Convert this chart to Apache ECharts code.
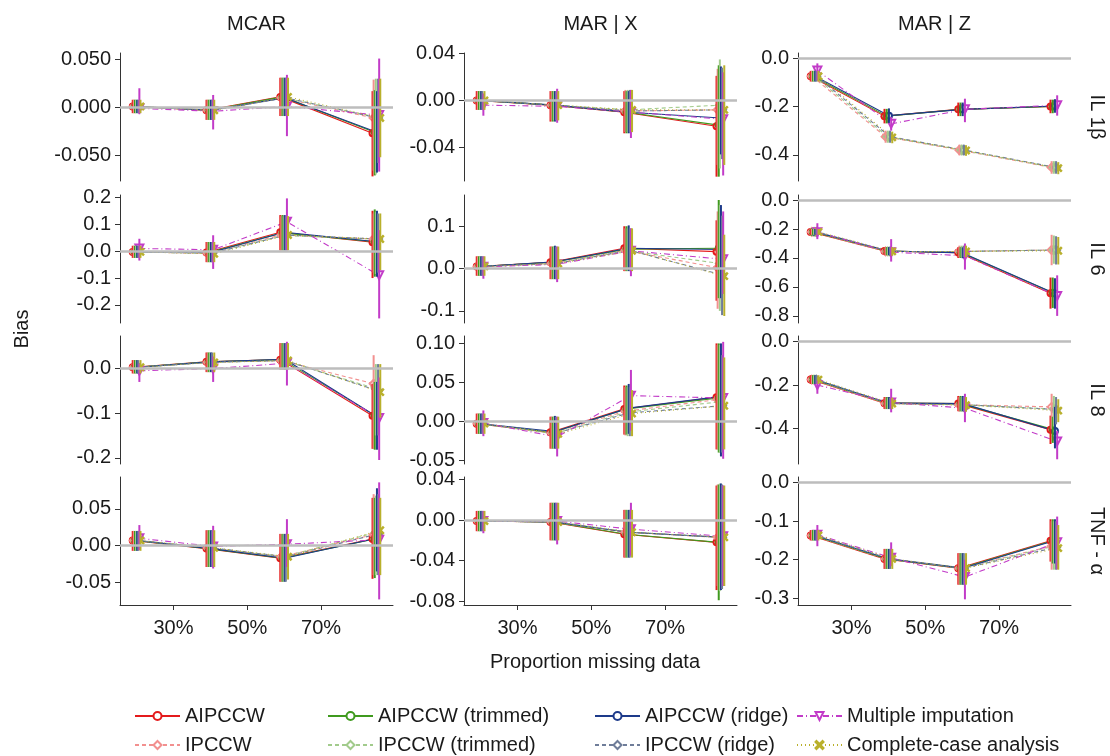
<!DOCTYPE html>
<html>
<head>
<meta charset="utf-8">
<script src="https://cdn.jsdelivr.net/npm/echarts@6/dist/echarts.min.js"></script>
<style>
  html, body { margin: 0; padding: 0; background: #fff; }
  #main { width: 1110px; height: 756px; }
</style>
</head>
<body>
<div id="main"></div>
<script>
// x positions (proportion missing, %) and labels
var xPos = [20, 40, 60, 85];
var xTicks = [30, 50, 70];
var colNames = ['MCAR', 'MAR | X', 'MAR | Z'];
var rowNames = ['IL 1β', 'IL 6', 'IL 8', 'TNF - α'];
// factor order (also dodge order, left to right)
var methods = ['AIPCCW', 'IPCCW', 'AIPCCW (trimmed)', 'IPCCW (trimmed)',
               'AIPCCW (ridge)', 'IPCCW (ridge)', 'Multiple imputation', 'Complete-case analysis'];

// ---- IL 1b ----
var est_mcar_il1b = [[0.001,-0.003,0.011,-0.027],[0.001,-0.003,0.010,-0.011],[0.001,-0.003,0.011,-0.026],[0.001,-0.003,0.010,-0.010],
                     [0.001,-0.003,0.010,-0.026],[0.001,-0.003,0.010,-0.011],[-0.001,-0.004,0.001,-0.008],[0.001,-0.003,0.011,-0.011]];
var lo_mcar_il1b  = [[-0.006,-0.013,-0.009,-0.072],[-0.006,-0.013,-0.009,-0.066],[-0.006,-0.013,-0.009,-0.071],[-0.006,-0.013,-0.009,-0.070],
                     [-0.006,-0.013,-0.009,-0.068],[-0.006,-0.013,-0.009,-0.058],[-0.007,-0.023,-0.030,-0.067],[-0.006,-0.013,-0.009,-0.052]];
var hi_mcar_il1b  = [[0.008,0.008,0.031,0.017],[0.008,0.008,0.031,0.029],[0.008,0.008,0.031,0.018],[0.008,0.008,0.031,0.030],
                     [0.008,0.008,0.031,0.017],[0.008,0.008,0.031,0.030],[0.020,0.013,0.034,0.051],[0.008,0.008,0.031,0.030]];

var est_marx_il1b = [[0.000,-0.004,-0.010,-0.022],[0.000,-0.004,-0.009,-0.008],[0.000,-0.004,-0.010,-0.021],[0.000,-0.004,-0.008,-0.004],
                     [0.000,-0.004,-0.010,-0.015],[0.000,-0.004,-0.009,-0.008],[-0.004,-0.005,-0.010,-0.016],[0.000,-0.004,-0.008,-0.008]];
var lo_marx_il1b  = [[-0.008,-0.018,-0.028,-0.065],[-0.008,-0.017,-0.027,-0.055],[-0.008,-0.018,-0.028,-0.065],[-0.008,-0.017,-0.027,-0.058],
                     [-0.008,-0.018,-0.028,-0.046],[-0.008,-0.017,-0.027,-0.050],[-0.013,-0.019,-0.032,-0.064],[-0.008,-0.017,-0.027,-0.055]];
var hi_marx_il1b  = [[0.008,0.008,0.008,0.021],[0.008,0.008,0.009,0.027],[0.008,0.008,0.008,0.030],[0.008,0.008,0.009,0.035],
                     [0.008,0.008,0.008,0.029],[0.008,0.008,0.009,0.028],[0.006,0.010,0.009,0.024],[0.008,0.008,0.009,0.030]];

var est_marz_il1b = [[-0.075,-0.240,-0.212,-0.200],[-0.075,-0.325,-0.380,-0.452],[-0.075,-0.240,-0.212,-0.200],[-0.075,-0.325,-0.380,-0.452],
                     [-0.075,-0.238,-0.212,-0.198],[-0.075,-0.325,-0.380,-0.452],[-0.052,-0.272,-0.212,-0.195],[-0.075,-0.328,-0.382,-0.455]];
var lo_marz_il1b  = [[-0.097,-0.270,-0.240,-0.228],[-0.097,-0.350,-0.402,-0.478],[-0.097,-0.270,-0.240,-0.228],[-0.097,-0.350,-0.402,-0.478],
                     [-0.097,-0.268,-0.240,-0.226],[-0.097,-0.350,-0.402,-0.478],[-0.092,-0.300,-0.265,-0.238],[-0.097,-0.352,-0.404,-0.480]];
var hi_marz_il1b  = [[-0.053,-0.210,-0.184,-0.172],[-0.053,-0.300,-0.358,-0.426],[-0.053,-0.210,-0.184,-0.172],[-0.053,-0.300,-0.358,-0.426],
                     [-0.053,-0.208,-0.184,-0.170],[-0.053,-0.300,-0.358,-0.426],[-0.022,-0.244,-0.168,-0.154],[-0.053,-0.304,-0.360,-0.430]];

// ---- IL 6 ----
var est_mcar_il6 = [[-0.003,-0.005,0.070,0.033],[-0.003,-0.008,0.060,0.045],[-0.003,-0.005,0.068,0.035],[-0.003,-0.008,0.058,0.045],
                    [-0.003,-0.005,0.070,0.035],[-0.003,-0.008,0.060,0.045],[0.010,0.005,0.109,-0.090],[-0.003,-0.010,0.060,0.045]];
var lo_mcar_il6  = [[-0.025,-0.041,0.003,-0.100],[-0.025,-0.041,0.003,-0.080],[-0.025,-0.041,0.003,-0.095],[-0.025,-0.041,0.003,-0.085],
                    [-0.025,-0.041,0.003,-0.095],[-0.025,-0.041,0.003,-0.080],[-0.035,-0.066,0.003,-0.250],[-0.025,-0.041,0.003,-0.070]];
var hi_mcar_il6  = [[0.020,0.034,0.134,0.150],[0.020,0.034,0.130,0.140],[0.020,0.034,0.134,0.155],[0.020,0.034,0.130,0.145],
                    [0.020,0.034,0.134,0.150],[0.020,0.034,0.130,0.140],[0.046,0.059,0.196,0.078],[0.020,0.034,0.130,0.140]];

var est_marx_il6 = [[0.005,0.015,0.048,0.040],[0.005,0.012,0.043,0.002],[0.005,0.015,0.046,0.048],[0.005,0.012,0.042,0.012],
                    [0.005,0.016,0.048,0.045],[0.005,0.012,0.043,-0.015],[0.004,0.010,0.042,0.022],[0.005,0.012,0.042,-0.018]];
var lo_marx_il6  = [[-0.017,-0.025,-0.006,-0.076],[-0.017,-0.025,-0.006,-0.095],[-0.017,-0.025,-0.006,-0.070],[-0.017,-0.025,-0.006,-0.100],
                    [-0.017,-0.025,-0.006,-0.070],[-0.017,-0.025,-0.006,-0.110],[-0.024,-0.032,-0.018,-0.060],[-0.017,-0.025,-0.006,-0.112]];
var hi_marx_il6  = [[0.029,0.052,0.100,0.114],[0.029,0.052,0.095,0.135],[0.029,0.052,0.100,0.162],[0.029,0.052,0.095,0.150],
                    [0.029,0.054,0.102,0.150],[0.029,0.052,0.095,0.125],[0.029,0.052,0.095,0.135],[0.029,0.052,0.095,0.080]];

var est_marz_il6 = [[-0.220,-0.352,-0.363,-0.644],[-0.220,-0.355,-0.355,-0.345],[-0.220,-0.352,-0.362,-0.640],[-0.220,-0.355,-0.355,-0.345],
                    [-0.220,-0.352,-0.365,-0.645],[-0.220,-0.355,-0.355,-0.345],[-0.222,-0.360,-0.385,-0.662],[-0.220,-0.355,-0.355,-0.350]];
var lo_marz_il6  = [[-0.240,-0.380,-0.400,-0.750],[-0.240,-0.385,-0.395,-0.450],[-0.240,-0.380,-0.400,-0.745],[-0.240,-0.385,-0.395,-0.440],
                    [-0.240,-0.380,-0.402,-0.750],[-0.240,-0.385,-0.395,-0.445],[-0.270,-0.425,-0.480,-0.800],[-0.240,-0.385,-0.395,-0.445]];
var hi_marz_il6  = [[-0.200,-0.325,-0.325,-0.535],[-0.200,-0.325,-0.315,-0.240],[-0.200,-0.325,-0.325,-0.535],[-0.200,-0.325,-0.315,-0.245],
                    [-0.200,-0.325,-0.327,-0.540],[-0.200,-0.325,-0.315,-0.250],[-0.160,-0.270,-0.300,-0.520],[-0.200,-0.325,-0.315,-0.255]];

// ---- IL 8 ----
var est_mcar_il8 = [[0.003,0.015,0.020,-0.106],[0.003,0.014,0.018,-0.034],[0.003,0.015,0.020,-0.105],[0.003,0.014,0.018,-0.045],
                    [0.003,0.015,0.021,-0.108],[0.003,0.014,0.018,-0.050],[-0.005,0.000,0.012,-0.111],[0.003,0.014,0.018,-0.053]];
var lo_mcar_il8  = [[-0.011,-0.008,-0.002,-0.180],[-0.011,-0.008,-0.002,-0.180],[-0.011,-0.008,-0.002,-0.182],[-0.011,-0.008,-0.002,-0.150],
                    [-0.011,-0.008,-0.002,-0.182],[-0.011,-0.008,-0.002,-0.150],[-0.030,-0.030,-0.038,-0.205],[-0.011,-0.008,-0.002,-0.110]];
var hi_mcar_il8  = [[0.019,0.036,0.057,-0.034],[0.019,0.036,0.057,0.030],[0.019,0.036,0.057,-0.030],[0.019,0.036,0.057,0.010],
                    [0.019,0.036,0.057,-0.030],[0.019,0.036,0.057,0.010],[0.011,0.027,0.060,-0.020],[0.019,0.036,0.057,0.010]];

var est_marx_il8 = [[-0.003,-0.014,0.016,0.031],[-0.003,-0.015,0.013,0.028],[-0.003,-0.014,0.016,0.030],[-0.003,-0.016,0.012,0.025],
                    [-0.003,-0.013,0.017,0.032],[-0.003,-0.015,0.011,0.020],[-0.002,-0.020,0.033,0.030],[-0.003,-0.016,0.010,0.020]];
var lo_marx_il8  = [[-0.016,-0.035,-0.017,-0.036],[-0.016,-0.035,-0.018,-0.036],[-0.016,-0.035,-0.017,-0.040],[-0.016,-0.035,-0.019,-0.040],
                    [-0.016,-0.035,-0.016,-0.045],[-0.016,-0.035,-0.019,-0.040],[-0.019,-0.045,-0.012,-0.048],[-0.016,-0.035,-0.019,-0.036]];
var hi_marx_il8  = [[0.010,0.006,0.046,0.100],[0.010,0.006,0.044,0.098],[0.010,0.006,0.046,0.100],[0.010,0.006,0.044,0.098],
                    [0.010,0.007,0.048,0.100],[0.010,0.006,0.044,0.085],[0.014,0.006,0.066,0.102],[0.010,0.006,0.040,0.082]];

var est_marz_il8 = [[-0.175,-0.283,-0.285,-0.405],[-0.175,-0.285,-0.290,-0.300],[-0.175,-0.283,-0.285,-0.403],[-0.175,-0.285,-0.290,-0.310],
                    [-0.175,-0.283,-0.285,-0.410],[-0.175,-0.285,-0.290,-0.312],[-0.200,-0.280,-0.306,-0.458],[-0.175,-0.285,-0.292,-0.317]];
var lo_marz_il8  = [[-0.195,-0.310,-0.320,-0.470],[-0.195,-0.310,-0.322,-0.400],[-0.195,-0.310,-0.320,-0.465],[-0.195,-0.310,-0.322,-0.390],
                    [-0.195,-0.310,-0.320,-0.490],[-0.195,-0.310,-0.322,-0.380],[-0.240,-0.325,-0.370,-0.540],[-0.195,-0.310,-0.322,-0.370]];
var hi_marz_il8  = [[-0.155,-0.255,-0.250,-0.340],[-0.155,-0.258,-0.255,-0.240],[-0.155,-0.255,-0.250,-0.345],[-0.155,-0.258,-0.255,-0.250],
                    [-0.155,-0.255,-0.250,-0.300],[-0.155,-0.258,-0.255,-0.255],[-0.180,-0.217,-0.240,-0.410],[-0.155,-0.258,-0.255,-0.265]];

// ---- TNF-a ----
var est_mcar_tnf = [[0.007,-0.004,-0.017,0.009],[0.007,-0.003,-0.015,0.015],[0.007,-0.004,-0.017,0.009],[0.007,-0.003,-0.015,0.018],
                    [0.007,-0.004,-0.017,0.010],[0.007,-0.003,-0.015,0.016],[0.010,-0.001,0.002,0.008],[0.007,-0.003,-0.015,0.021]];
var lo_mcar_tnf  = [[-0.007,-0.029,-0.049,-0.045],[-0.007,-0.029,-0.049,-0.040],[-0.007,-0.029,-0.049,-0.044],[-0.007,-0.029,-0.049,-0.040],
                    [-0.007,-0.029,-0.049,-0.035],[-0.007,-0.029,-0.049,-0.040],[-0.006,-0.031,-0.029,-0.073],[-0.007,-0.029,-0.046,-0.040]];
var hi_mcar_tnf  = [[0.020,0.021,0.016,0.065],[0.020,0.021,0.016,0.070],[0.020,0.021,0.016,0.065],[0.020,0.021,0.016,0.068],
                    [0.020,0.021,0.016,0.078],[0.020,0.021,0.016,0.070],[0.028,0.027,0.036,0.086],[0.020,0.021,0.016,0.065]];

var est_marx_tnf = [[-0.001,-0.002,-0.014,-0.022],[-0.001,-0.002,-0.012,-0.017],[-0.001,-0.002,-0.014,-0.022],[-0.001,-0.002,-0.012,-0.017],
                    [-0.001,-0.002,-0.012,-0.017],[-0.001,-0.002,-0.012,-0.017],[-0.001,-0.001,-0.009,-0.016],[-0.001,-0.002,-0.012,-0.017]];
var lo_marx_tnf  = [[-0.011,-0.020,-0.037,-0.069],[-0.011,-0.020,-0.037,-0.065],[-0.011,-0.020,-0.037,-0.079],[-0.011,-0.020,-0.037,-0.070],
                    [-0.011,-0.020,-0.037,-0.069],[-0.011,-0.020,-0.037,-0.068],[-0.013,-0.024,-0.035,-0.065],[-0.011,-0.020,-0.037,-0.065]];
var hi_marx_tnf  = [[0.009,0.017,0.010,0.034],[0.009,0.017,0.010,0.035],[0.009,0.017,0.010,0.035],[0.009,0.017,0.010,0.036],
                    [0.009,0.017,0.010,0.036],[0.009,0.017,0.010,0.035],[0.009,0.017,0.017,0.034],[0.009,0.017,0.010,0.034]];

var est_marz_tnf = [[-0.137,-0.198,-0.222,-0.151],[-0.137,-0.198,-0.222,-0.165],[-0.137,-0.198,-0.222,-0.151],[-0.137,-0.198,-0.222,-0.165],
                    [-0.137,-0.198,-0.222,-0.150],[-0.137,-0.198,-0.222,-0.168],[-0.135,-0.195,-0.245,-0.155],[-0.137,-0.198,-0.222,-0.170]];
var lo_marz_tnf  = [[-0.150,-0.224,-0.265,-0.205],[-0.150,-0.224,-0.265,-0.226],[-0.150,-0.224,-0.265,-0.210],[-0.150,-0.224,-0.265,-0.226],
                    [-0.150,-0.224,-0.265,-0.210],[-0.150,-0.224,-0.265,-0.226],[-0.165,-0.217,-0.303,-0.225],[-0.150,-0.224,-0.265,-0.226]];
var hi_marz_tnf  = [[-0.123,-0.172,-0.183,-0.095],[-0.123,-0.172,-0.183,-0.100],[-0.123,-0.172,-0.183,-0.095],[-0.123,-0.172,-0.183,-0.100],
                    [-0.123,-0.172,-0.183,-0.095],[-0.123,-0.172,-0.183,-0.100],[-0.110,-0.155,-0.200,-0.088],[-0.123,-0.172,-0.183,-0.110]];

// y axis limits and ticks, panel order row by row
var yMin = [-0.0768, -0.0687, -0.508, -0.267, -0.1286, -0.849, -0.214, -0.0547, -0.5616, -0.0806, -0.0837, -0.3177];
var yMax = [0.0568, 0.0405, 0.0208, 0.2086, 0.1738, 0.0348, 0.073, 0.1095, 0.0246, 0.0933, 0.0424, 0.0148];
var yTicks = [[-0.05,0,0.05],[-0.04,0,0.04],[-0.4,-0.2,0],
              [-0.2,-0.1,0,0.1,0.2],[-0.1,0,0.1],[-0.8,-0.6,-0.4,-0.2,0],
              [-0.2,-0.1,0],[-0.05,0,0.05,0.1],[-0.4,-0.2,0],
              [-0.05,0,0.05],[-0.08,-0.04,0,0.04],[-0.3,-0.2,-0.1,0]];
var yDec = [3,2,1, 1,1,1, 1,2,1, 2,2,1];

var panels = [
  [est_mcar_il1b, lo_mcar_il1b, hi_mcar_il1b], [est_marx_il1b, lo_marx_il1b, hi_marx_il1b], [est_marz_il1b, lo_marz_il1b, hi_marz_il1b],
  [est_mcar_il6, lo_mcar_il6, hi_mcar_il6], [est_marx_il6, lo_marx_il6, hi_marx_il6], [est_marz_il6, lo_marz_il6, hi_marz_il6],
  [est_mcar_il8, lo_mcar_il8, hi_mcar_il8], [est_marx_il8, lo_marx_il8, hi_marx_il8], [est_marz_il8, lo_marz_il8, hi_marz_il8],
  [est_mcar_tnf, lo_mcar_tnf, hi_mcar_tnf], [est_marx_tnf, lo_marx_tnf, hi_marx_tnf], [est_marz_tnf, lo_marz_tnf, hi_marz_tnf]
];

var FONT = '"Liberation Sans", Arial, sans-serif';
var xMark = 'path://M0,1.2L1.2,0L5,3.8L8.8,0L10,1.2L6.2,5L10,8.8L8.8,10L5,6.2L1.2,10L0,8.8L3.8,5Z';
var looks = [
  { color: '#E41A1C', dash: 'solid',     symbol: 'emptyCircle',   size: 6 },
  { color: '#F2908F', dash: [4, 3],      symbol: 'emptyDiamond',  size: 8 },
  { color: '#3F9A1E', dash: 'solid',     symbol: 'emptyCircle',   size: 6 },
  { color: '#A2CB8C', dash: [4, 3],      symbol: 'emptyDiamond',  size: 8 },
  { color: '#1D3A8A', dash: 'solid',     symbol: 'emptyCircle',   size: 6 },
  { color: '#6F7D99', dash: [4, 3],      symbol: 'emptyDiamond',  size: 8 },
  { color: '#C23BC8', dash: [6, 3, 1, 3], symbol: 'emptyTriangle', size: 8, rotate: 180 },
  { color: '#B9B02C', dash: [1, 3],      symbol: xMark,           size: 7 }
];
var dodge = 0.3;

var colLeft = [120, 464, 798], panelW = 273;
var rowTop = [53, 195, 336, 477], panelH = 128;

var grids = [], xAxes = [], yAxes = [], lineSeries = [], barSeries = [];

function renderBar(params, api) {
  var x = api.value(0);
  var p1 = api.coord([x, api.value(1)]);
  var p2 = api.coord([x, api.value(2)]);
  return {
    type: 'line',
    shape: { x1: p1[0], y1: p1[1], x2: p2[0], y2: p2[1] },
    style: { stroke: api.visual('color'), lineWidth: 2 }
  };
}

for (var r = 0; r < 4; r++) {
  for (var c = 0; c < 3; c++) {
    var k = r * 3 + c;
    var bottomRow = (r === 3);
    grids.push({ left: colLeft[c], top: rowTop[r], width: panelW, height: panelH });
    xAxes.push({
      type: 'value', gridIndex: k, min: 15.5, max: 89.5,
      show: true,
      splitLine: { show: false },
      axisLine: { show: bottomRow, onZero: false, lineStyle: { color: '#333', width: 1 } },
      axisTick: { show: bottomRow, length: 5, customValues: xTicks, lineStyle: { color: '#333' } },
      axisLabel: { show: bottomRow, customValues: xTicks, margin: 13, fontSize: 20, color: '#1a1a1a',
                   fontFamily: FONT, formatter: function (v) { return v + '%'; } }
    });
    (function (dec) {
      yAxes.push({
        type: 'value', gridIndex: k, min: yMin[k], max: yMax[k],
        splitLine: { show: false },
        axisLine: { show: true, onZero: false, lineStyle: { color: '#333', width: 1 } },
        axisTick: { show: true, length: 5, customValues: yTicks[k], lineStyle: { color: '#333' } },
        axisLabel: { customValues: yTicks[k], margin: 9, fontSize: 20, color: '#1a1a1a', fontFamily: FONT,
                     formatter: function (v) { var s = Number(v).toFixed(dec); return (Math.abs(v) < 1e-9) ? Number(0).toFixed(dec) : s; } }
      });
    })(yDec[k]);

    // zero reference line
    lineSeries.push({
      type: 'line', xAxisIndex: k, yAxisIndex: k, data: [], z: 1, silent: true,
      markLine: { silent: true, symbol: 'none', label: { show: false }, animation: false,
                  lineStyle: { color: '#BDBDBD', width: 2.5, type: 'solid' }, data: [{ yAxis: 0 }] }
    });

    var est = panels[k][0], lo = panels[k][1], hi = panels[k][2];
    for (var m = 0; m < methods.length; m++) {
      var off = (m - 3.5) * dodge;
      var pts = [], bars = [];
      for (var j = 0; j < xPos.length; j++) {
        pts.push([xPos[j] + off, est[m][j]]);
        bars.push([xPos[j] + off, lo[m][j], hi[m][j]]);
      }
      var lk = looks[m];
      lineSeries.push({
        name: methods[m], type: 'line', xAxisIndex: k, yAxisIndex: k, data: pts, z: 2,
        symbol: lk.symbol, symbolSize: lk.size, symbolRotate: lk.rotate || 0, showSymbol: true,
        lineStyle: { color: lk.color, width: 1.1, type: lk.dash },
        itemStyle: { color: lk.color, borderColor: lk.color, borderWidth: 1.3 },
        emphasis: { disabled: true }
      });
      barSeries.push({
        name: methods[m], type: 'custom', xAxisIndex: k, yAxisIndex: k, data: bars, z: 3,
        renderItem: renderBar, itemStyle: { color: lk.color }, encode: { x: 0, y: [1, 2] },
        clip: true, silent: true
      });
    }
  }
}

var graphics = [];
for (var c2 = 0; c2 < 3; c2++) {
  graphics.push({ type: 'text', x: colLeft[c2] + panelW / 2, y: 24,
    style: { text: colNames[c2], font: '20px ' + FONT, fill: '#1a1a1a', textAlign: 'center', textVerticalAlign: 'middle', align: 'center', verticalAlign: 'middle' } });
}
for (var r2 = 0; r2 < 4; r2++) {
  graphics.push({ type: 'text', x: 1097, y: rowTop[r2] + panelH / 2, rotation: -Math.PI / 2,
    style: { text: rowNames[r2], font: '20px ' + FONT, fill: '#1a1a1a', textAlign: 'center', textVerticalAlign: 'middle', align: 'center', verticalAlign: 'middle' } });
}
graphics.push({ type: 'text', x: 22, y: 329, rotation: Math.PI / 2,
  style: { text: 'Bias', font: '20px ' + FONT, fill: '#1a1a1a', textAlign: 'center', textVerticalAlign: 'middle', align: 'center', verticalAlign: 'middle' } });
graphics.push({ type: 'text', x: 595, y: 662,
  style: { text: 'Proportion missing data', font: '20px ' + FONT, fill: '#1a1a1a', textAlign: 'center', textVerticalAlign: 'middle', align: 'center', verticalAlign: 'middle' } });

// legend: 4 columns x 2 rows, filled column-wise in factor order
var legendLeft = [129, 322, 589, 791];
var legendTop = [701, 730];
var legends = [];
for (var i = 0; i < methods.length; i++) {
  legends.push({
    orient: 'horizontal', left: legendLeft[Math.floor(i / 2)], top: legendTop[i % 2],
    data: [methods[i]],
    itemWidth: 45, itemHeight: 10, selectedMode: false,
    textStyle: { fontSize: 20, color: '#1a1a1a', fontFamily: FONT, lineHeight: 20 }
  });
}

var chart = echarts.init(document.getElementById('main'), null, { renderer: 'canvas' });
chart.setOption({
  animation: false,
  backgroundColor: '#fff',
  textStyle: { fontFamily: FONT },
  grid: grids,
  xAxis: xAxes,
  yAxis: yAxes,
  legend: legends,
  graphic: graphics,
  series: lineSeries.concat(barSeries)
});
</script>
</body>
</html>
